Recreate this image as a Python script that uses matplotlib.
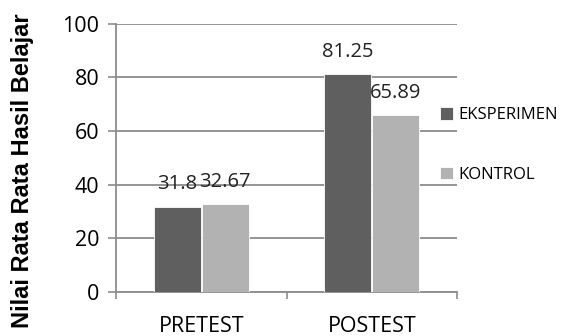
import numpy as np
import matplotlib
matplotlib.use("Agg")
import matplotlib.pyplot as plt

categories = ["PRETEST", "POSTEST"]
series_names = ["EKSPERIMEN", "KONTROL"]
eksperimen = [31.8, 81.25]
kontrol = [32.67, 65.89]
value_labels = [["31.8", "81.25"], ["32.67", "65.89"]]
yticks = [0, 20, 40, 60, 80, 100]

colors = ["#5f5f5f", "#b2b2b2"]
grid_color = "#8c8c8c"

plt.rcParams["font.family"] = ["Open Sans", "DejaVu Sans"]

fig = plt.figure(figsize=(5.62, 3.36), dpi=100)
ax = fig.add_axes([116 / 562, 1 - 292 / 336, (457 - 116) / 562, (292 - 23.7) / 336])

x = np.arange(len(categories))
w = 0.275
gap = 0.006
for i, (vals, name) in enumerate(zip([eksperimen, kontrol], series_names)):
    pos = x + (i - 0.5) * (w + gap)
    ax.bar(pos, vals, width=w, color=colors[i], label=name, zorder=3,
           edgecolor="white", linewidth=0.6)
    for p, v, txt in zip(pos, vals, value_labels[i]):
        ax.annotate(txt, (p, v), textcoords="offset points", xytext=(0, 9),
                    ha="center", va="bottom", fontsize=14.5, color="#222222")

ax.set_xlim(-0.5, 1.5)
ax.set_ylim(0, 100)
ax.set_yticks(yticks)
ax.set_xticks(x)
ax.set_xticklabels(categories)
ax.set_xticks([-0.5, 0.5, 1.5], minor=True)
ax.tick_params(axis="x", which="major", length=0, pad=17, labelsize=15.5)
ax.tick_params(axis="x", which="minor", length=5, color=grid_color, width=1.2)
ax.tick_params(axis="y", length=6, color=grid_color, width=1.2, labelsize=15.5, pad=6)

ax.grid(axis="y", color=grid_color, linewidth=1.3, zorder=0)
for side in ["top", "right"]:
    ax.spines[side].set_visible(False)
for side in ["left", "bottom"]:
    ax.spines[side].set_color(grid_color)
    ax.spines[side].set_linewidth(1.3)

ax.set_ylabel("Nilai Rata Rata Hasil Belajar", fontsize=17, fontweight="bold",
              family=["Liberation Sans", "DejaVu Sans"])
ax.yaxis.set_label_coords((22 - 116) / (457 - 116), (292 - 171) / (292 - 23.7))
ax.yaxis.label.set_va("center")

leg = fig.legend(loc="upper left", bbox_to_anchor=(432 / 562, 1 - 99 / 336),
                 frameon=False, fontsize=12, handlelength=0.75, handleheight=0.75,
                 handletextpad=0.35, labelspacing=2.6, borderpad=0)

fig.savefig("out.png", dpi=100)
